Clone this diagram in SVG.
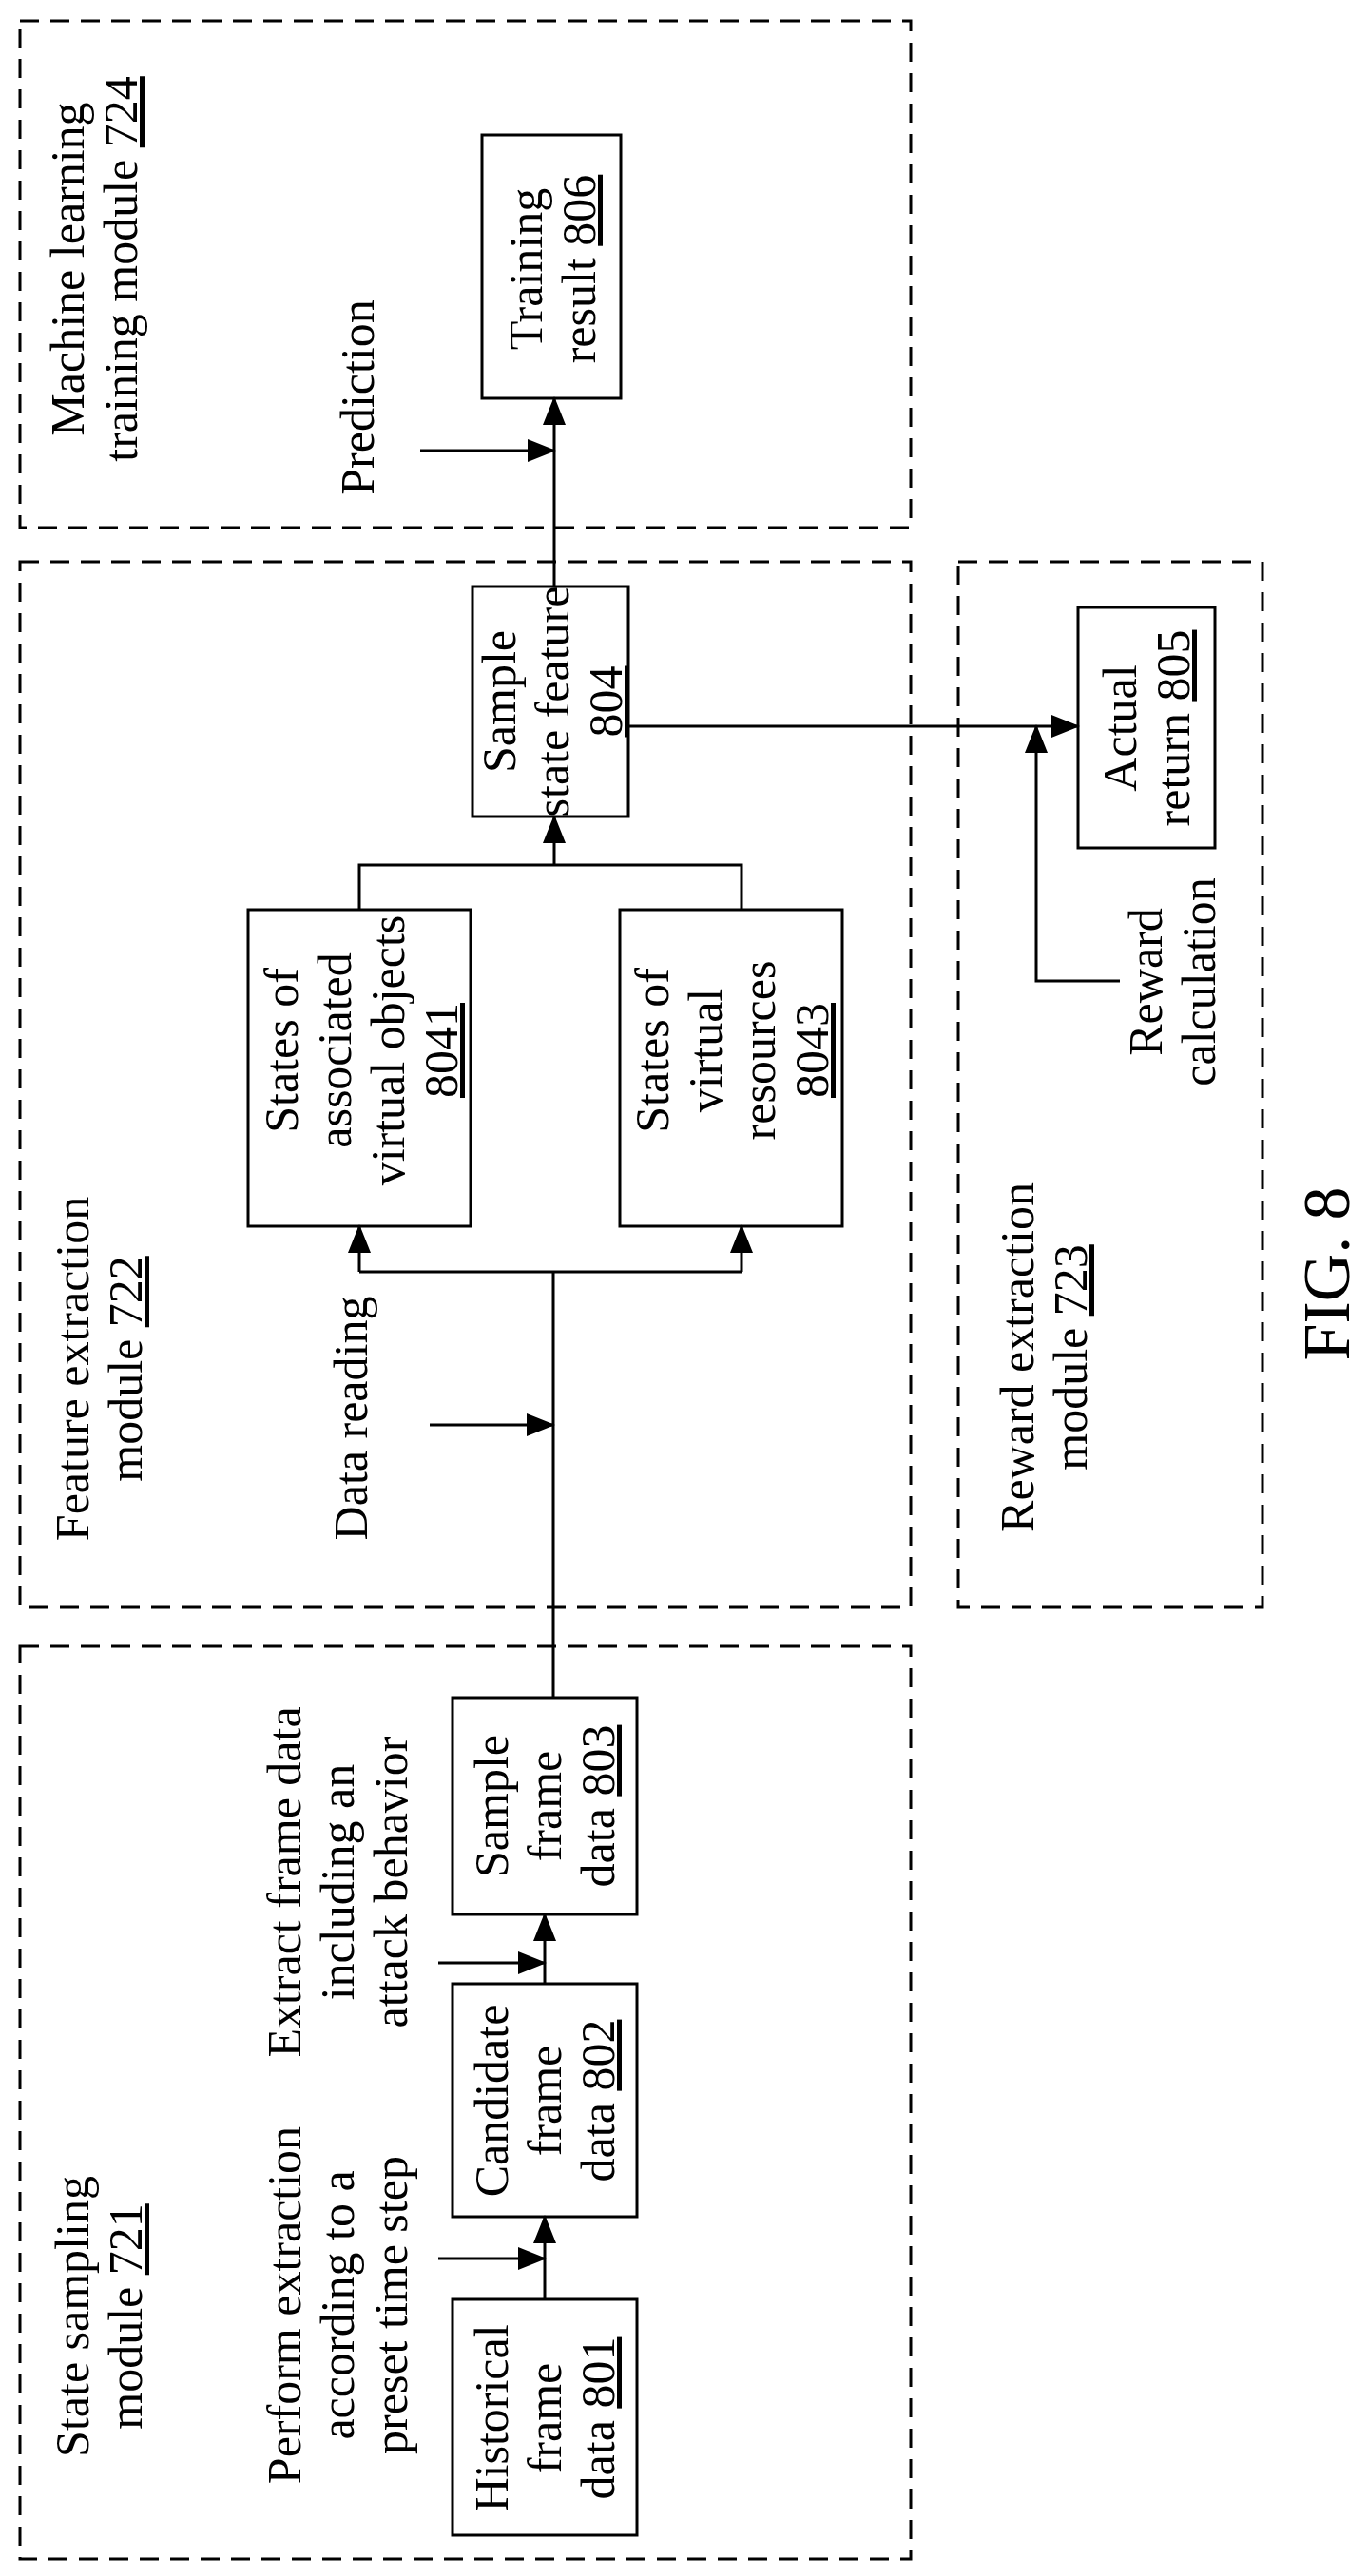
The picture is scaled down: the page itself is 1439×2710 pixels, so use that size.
<svg xmlns="http://www.w3.org/2000/svg" width="1439" height="2710" viewBox="0 0 1439 2710">
<style>
.mod{fill:none;stroke:#000;stroke-width:3;stroke-dasharray:20 12}
.box{fill:#fff;stroke:#000;stroke-width:3}
.ln{fill:none;stroke:#000;stroke-width:3}
.ar{fill:none;stroke:#000;stroke-width:3;marker-end:url(#ah)}
text{font-family:"Liberation Serif","DejaVu Serif","Times New Roman",serif;font-size:50px;fill:#000;text-anchor:middle}
.u{text-decoration:underline}
</style>
<defs>
<marker id="ah" markerUnits="userSpaceOnUse" markerWidth="30" markerHeight="24" refX="28" refY="12" orient="auto">
<path d="M0,0 L30,12 L0,24 Z" fill="#000"/>
</marker>
</defs>
<rect width="1439" height="2710" fill="#fff"/>
<g id="modules">
<rect id="ml-module" class="mod" x="21" y="22" width="937" height="533"/>
<rect id="feature-module" class="mod" x="21" y="591" width="937" height="1100"/>
<rect id="reward-module" class="mod" x="1008" y="591" width="320" height="1100"/>
<rect id="state-module" class="mod" x="21" y="1732" width="937" height="960"/>
<text transform="translate(99,283) rotate(-90)"><tspan x="0" y="-11">Machine learning</tspan><tspan x="0" y="45">training module <tspan class="u">724</tspan></tspan></text>
<text transform="translate(104,1440) rotate(-90)"><tspan x="0" y="-11">Feature extraction</tspan><tspan x="0" y="45">module <tspan class="u">722</tspan></tspan></text>
<text transform="translate(1098,1428) rotate(-90)"><tspan x="0" y="-11">Reward extraction</tspan><tspan x="0" y="45">module <tspan class="u">723</tspan></tspan></text>
<text transform="translate(104,2437) rotate(-90)"><tspan x="0" y="-11">State sampling</tspan><tspan x="0" y="45">module <tspan class="u">721</tspan></tspan></text>
</g>
<g id="n806"><rect class="box" x="507" y="142" width="146" height="277"/>
<text transform="translate(581,283) rotate(-90)"><tspan x="0" y="-11">Training</tspan><tspan x="0" y="45">result <tspan class="u">806</tspan></tspan></text></g>
<g id="n804"><rect class="box" x="497" y="617" width="164" height="242"/>
<text transform="translate(581,738) rotate(-90)"><tspan x="0" y="-39">Sample</tspan><tspan x="0" y="17">state feature</tspan><tspan x="0" y="73" class="u">804</tspan></text></g>
<g id="n805"><rect class="box" x="1134" y="639" width="144" height="253"/>
<text transform="translate(1206,766) rotate(-90)"><tspan x="0" y="-11">Actual</tspan><tspan x="0" y="45">return <tspan class="u">805</tspan></tspan></text></g>
<g id="n8041"><rect class="box" x="261" y="957" width="234" height="333"/>
<text transform="translate(380,1105) rotate(-90)"><tspan x="0" y="-67">States of</tspan><tspan x="0" y="-11">associated</tspan><tspan x="0" y="45">virtual objects</tspan><tspan x="0" y="101" class="u">8041</tspan></text></g>
<g id="n8043"><rect class="box" x="652" y="957" width="234" height="333"/>
<text transform="translate(770,1105) rotate(-90)"><tspan x="0" y="-67">States of</tspan><tspan x="0" y="-11">virtual</tspan><tspan x="0" y="45">resources</tspan><tspan x="0" y="101" class="u">8043</tspan></text></g>
<g id="n803"><rect class="box" x="476" y="1786" width="194" height="228"/>
<text transform="translate(573,1900) rotate(-90)"><tspan x="0" y="-39">Sample</tspan><tspan x="0" y="17">frame</tspan><tspan x="0" y="73">data <tspan class="u">803</tspan></tspan></text></g>
<g id="n802"><rect class="box" x="476" y="2087" width="194" height="245"/>
<text transform="translate(573,2210) rotate(-90)"><tspan x="0" y="-39">Candidate</tspan><tspan x="0" y="17">frame</tspan><tspan x="0" y="73">data <tspan class="u">802</tspan></tspan></text></g>
<g id="n801"><rect class="box" x="476" y="2419" width="194" height="248"/>
<text transform="translate(573,2544) rotate(-90)"><tspan x="0" y="-39">Historical</tspan><tspan x="0" y="17">frame</tspan><tspan x="0" y="73">data <tspan class="u">801</tspan></tspan></text></g>
<g id="labels">
<text transform="translate(376,418) rotate(-90)" y="17">Prediction</text>
<text transform="translate(1233,1033) rotate(-90)"><tspan x="0" y="-11">Reward</tspan><tspan x="0" y="45">calculation</tspan></text>
<text transform="translate(369,1492) rotate(-90)" y="17">Data reading</text>
<text transform="translate(355,2425) rotate(-90)"><tspan x="0" y="-39">Perform extraction</tspan><tspan x="0" y="17">according to a</tspan><tspan x="0" y="73">preset time step</tspan></text>
<text transform="translate(355,1980) rotate(-90)"><tspan x="0" y="-39">Extract frame data</tspan><tspan x="0" y="17">including an</tspan><tspan x="0" y="73">attack behavior</tspan></text>
<text transform="translate(1395,1340) rotate(-90)" y="24" style="font-size:70px">FIG. 8</text>
</g>
<g id="connectors">
<path class="ar" d="M583,617 V419"/>
<path class="ar" d="M442,474 H583"/>
<path class="ar" d="M661,764 H1134"/>
<path class="ar" d="M1178,1032 H1090 V764"/>
<path class="ln" d="M378,957 V910 H780 V957"/>
<path class="ar" d="M583,910 V859"/>
<path class="ln" d="M582,1786 V1338"/>
<path class="ln" d="M378,1338 H780"/>
<path class="ar" d="M378,1338 V1290"/>
<path class="ar" d="M780,1338 V1290"/>
<path class="ar" d="M452,1499 H582"/>
<path class="ar" d="M573,2419 V2332"/>
<path class="ar" d="M461,2376 H573"/>
<path class="ar" d="M573,2087 V2014"/>
<path class="ar" d="M461,2065 H573"/>
</g>
</svg>
